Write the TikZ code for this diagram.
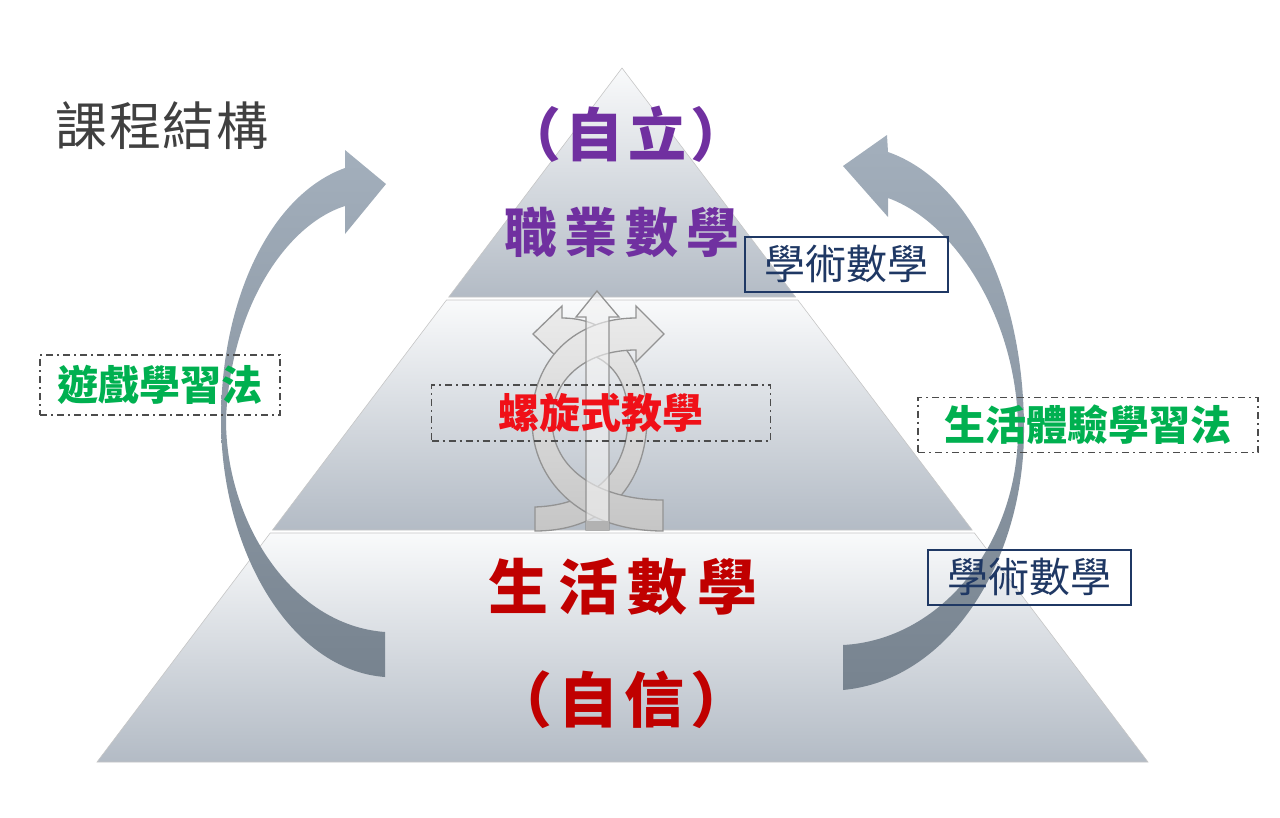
\documentclass[tikz,border=0pt]{standalone}
\usepackage{fontspec}
\newfontfamily\cjk{Noto Sans CJK TC}
\usetikzlibrary{calc}
\definecolor{purp}{HTML}{7030A0}
\definecolor{darkred}{HTML}{C00000}
\definecolor{spiralred}{HTML}{F01018}
\definecolor{navy}{HTML}{1F3864}
\definecolor{grn}{HTML}{00B050}
\definecolor{titlegray}{HTML}{404040}
\definecolor{tierTop}{HTML}{F9FAFB}
\definecolor{tierBot}{HTML}{B3BBC5}
\definecolor{arrTop}{HTML}{A3AFBC}
\definecolor{arrBot}{HTML}{77838F}
\begin{document}
\begin{tikzpicture}[x=1pt, y=-1pt, every node/.style={inner sep=0pt, font=\cjk},
    tier/.style={top color=tierTop, bottom color=tierBot, draw=gray!45, line width=0.6pt},
    bigarrow/.style={top color=arrTop, bottom color=arrBot},
    helix/.style={top color=gray!15, bottom color=gray!45, draw=gray!85, line width=1.3pt},
    acad/.style={draw=navy, line width=2pt, text=navy, minimum width=203pt, minimum height=55pt, font=\cjk\fontsize{41}{41}\selectfont},
    method/.style={draw=black!70, dash pattern=on 7pt off 4pt on 2pt off 4pt, line width=1.4pt, font=\cjk\bfseries\fontsize{41}{41}\selectfont}]

    \useasboundingbox (0,0) rectangle (1280,817);

    % pyramid
    \coordinate (apex) at (622,68);
    \coordinate (bl) at (97,762);
    \coordinate (br) at (1148,762);
    \foreach \a/\b in {0/0.33, 0.3343/0.6657, 0.67/1}
        \shadedraw[tier] ($(apex)!\a!(bl)$) -- ($(apex)!\a!(br)$) -- ($(apex)!\b!(br)$) -- ($(apex)!\b!(bl)$) -- cycle;

    % big curved arrows
    \shade[bigarrow] (385,677) .. controls (290,670) and (221,550) .. (221,420) .. controls (221,300) and (270,195) .. (345,168)
        -- (345,150) -- (386,184) -- (345,234) -- (345,206)
        .. controls (285,225) and (230,310) .. (226,420) .. controls (226,520) and (290,625) .. (385,632) -- cycle;
    \shade[bigarrow] (843,690) .. controls (950,680) and (1024,560) .. (1024,430) .. controls (1024,290) and (968,180) .. (888,152)
        -- (887,135) -- (843,166) -- (888,217) -- (888,198)
        .. controls (955,222) and (1018,320) .. (1018,430) .. controls (1018,545) and (940,640) .. (843,645) -- cycle;

    % spiral
    \shadedraw[helix] (535,531) .. controls (610,531) and (646,480) .. (647,420) .. controls (648,370) and (620,318) .. (562,318)
        -- (562,306) -- (533,334) -- (562,362) -- (562,350)
        .. controls (605,350) and (629,375) .. (628,420) .. controls (627,470) and (595,505) .. (535,507) -- cycle;
    \shadedraw[helix] (663,531) .. controls (580,531) and (532,480) .. (532,420) .. controls (532,360) and (575,318) .. (636,318)
        -- (636,306) -- (664,334) -- (636,362) -- (636,350)
        .. controls (585,350) and (552,380) .. (552,420) .. controls (552,470) and (600,500) .. (663,500) -- cycle;
    \filldraw[fill=gray!10, fill opacity=0.6, draw=gray!85, line width=1.3pt] (586,530) -- (586,317) -- (576,317) -- (597,291)
        -- (619,317) -- (609,317) -- (609,530) -- cycle;
    \fill[gray!60] (586,521) rectangle (609,530);

    \node (title) at (162,126) [text=titlegray, font=\cjk\fontsize{52}{52}\selectfont\addfontfeatures{LetterSpace=3}] {課程結構};
    \node (stand) at (626,134) [text=purp, font=\cjk\bfseries\fontsize{58}{58}\selectfont\addfontfeatures{LetterSpace=8}] {（自立）};
    \node (job) at (622,232) [text=purp, font=\cjk\bfseries\fontsize{53}{53}\selectfont\addfontfeatures{LetterSpace=15}] {職業數學};
    \node[acad] (acadtop) at (846,264) {學術數學};
    \node[method, minimum width=339pt, minimum height=56pt, text=spiralred] (spiral) at (601,413) {螺旋式教學};
    \node[method, minimum width=240pt, minimum height=60pt, text=grn] (game) at (160,385) {遊戲學習法};
    \node[method, minimum width=340pt, minimum height=55pt, text=grn] (lifeexp) at (1088,425) {生活體驗學習法};
    \node[acad] (acadbot) at (1029,577) {學術數學};
    \node (lifemath) at (623,587) [text=darkred, font=\cjk\bfseries\fontsize{60}{60}\selectfont\addfontfeatures{LetterSpace=16}] {生活數學};
    \node (conf) at (621,700) [text=darkred, font=\cjk\bfseries\fontsize{60}{60}\selectfont\addfontfeatures{LetterSpace=10}] {（自信）};
\end{tikzpicture}
\end{document}
